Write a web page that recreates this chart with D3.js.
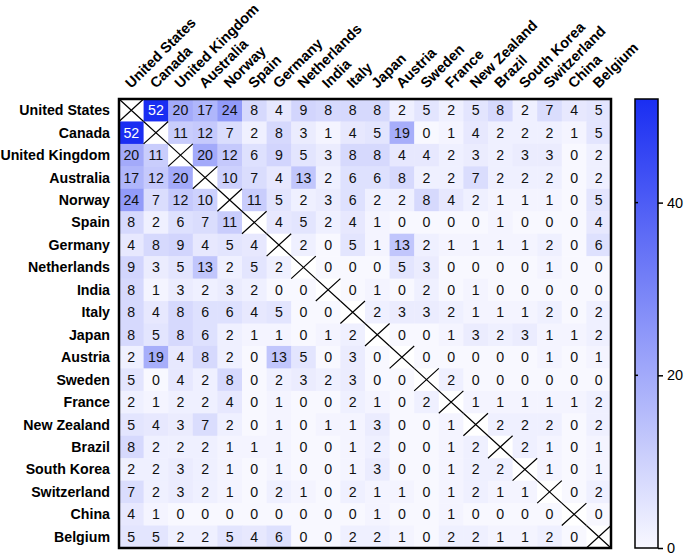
<!DOCTYPE html>
<html><head><meta charset="utf-8">
<script src="https://cdn.jsdelivr.net/npm/d3@7"></script>
<style>body{margin:0;background:#fff}svg{display:block}text{font-family:"Liberation Sans",Arial,sans-serif}</style>
</head><body>
<svg id="c" width="685" height="555"></svg>
<script>
const countries = ["United States","Canada","United Kingdom","Australia","Norway","Spain","Germany","Netherlands","India","Italy","Japan","Austria","Sweden","France","New Zealand","Brazil","South Korea","Switzerland","China","Belgium"];
const matrix = [
[null,52,20,17,24,8,4,9,8,8,8,2,5,2,5,8,2,7,4,5],
[52,null,11,12,7,2,8,3,1,4,5,19,0,1,4,2,2,2,1,5],
[20,11,null,20,12,6,9,5,3,8,8,4,4,2,3,2,3,3,0,2],
[17,12,20,null,10,7,4,13,2,6,6,8,2,2,7,2,2,2,0,2],
[24,7,12,10,null,11,5,2,3,6,2,2,8,4,2,1,1,1,0,5],
[8,2,6,7,11,null,4,5,2,4,1,0,0,0,0,1,0,0,0,4],
[4,8,9,4,5,4,null,2,0,5,1,13,2,1,1,1,1,2,0,6],
[9,3,5,13,2,5,2,null,0,0,0,5,3,0,0,0,0,1,0,0],
[8,1,3,2,3,2,0,0,null,0,1,0,2,0,1,0,0,0,0,0],
[8,4,8,6,6,4,5,0,0,null,2,3,3,2,1,1,1,2,0,2],
[8,5,8,6,2,1,1,0,1,2,null,0,0,1,3,2,3,1,1,2],
[2,19,4,8,2,0,13,5,0,3,0,null,0,0,0,0,0,1,0,1],
[5,0,4,2,8,0,2,3,2,3,0,0,null,2,0,0,0,0,0,0],
[2,1,2,2,4,0,1,0,0,2,1,0,2,null,1,1,1,1,1,2],
[5,4,3,7,2,0,1,0,1,1,3,0,0,1,null,2,2,2,0,2],
[8,2,2,2,1,1,1,0,0,1,2,0,0,1,2,null,2,1,0,1],
[2,2,3,2,1,0,1,0,0,1,3,0,0,1,2,2,null,1,0,1],
[7,2,3,2,1,0,2,1,0,2,1,1,0,1,2,1,1,null,0,2],
[4,1,0,0,0,0,0,0,0,0,1,0,0,1,0,0,0,0,null,0],
[5,5,2,2,5,4,6,0,0,2,2,1,0,2,2,1,1,2,0,null]
];
const colorTicks = [0,20,40];
const colorMax = 52;

const svg = d3.select("#c");
const L=119, R=611, T=99, B=548;
const x = d3.scaleBand().domain(countries).range([L,R]);
const y = d3.scaleBand().domain(countries).range([T,B]);
const color = d3.scaleLinear().domain([0,colorMax]).range(["#f8f8ff","#1a2ef2"]).interpolate(d3.interpolateRgb);

const cells = [];
matrix.forEach((row,i)=>row.forEach((v,j)=>cells.push({r:countries[i],c:countries[j],v})));

const g = svg.append("g");
g.selectAll("rect.cell").data(cells).join("rect")
  .attr("x",d=>x(d.c)).attr("y",d=>y(d.r))
  .attr("width",x.bandwidth()+0.5).attr("height",y.bandwidth()+0.5)
  .attr("fill",d=>d.v===null?"#fff":color(d.v));

g.selectAll("text.val").data(cells.filter(d=>d.v!==null)).join("text")
  .attr("x",d=>x(d.c)+x.bandwidth()/2).attr("y",d=>y(d.r)+y.bandwidth()/2)
  .attr("text-anchor","middle").attr("dominant-baseline","central")
  .attr("font-size",14.2).attr("fill",d=>d.v>40?"#fff":"#111")
  .text(d=>d.v);

// diagonal X marks
const diag = cells.filter(d=>d.v===null);
g.selectAll("path.x").data(diag).join("path")
  .attr("d",d=>{const x0=x(d.c),y0=y(d.r),w=x.bandwidth(),h=y.bandwidth();
    return `M${x0},${y0}L${x0+w},${y0+h}M${x0+w},${y0}L${x0},${y0+h}`;})
  .attr("stroke","#000").attr("stroke-width",1.2).attr("fill","none");

svg.append("rect").attr("x",L).attr("y",T).attr("width",R-L).attr("height",B-T)
  .attr("fill","none").attr("stroke","#000").attr("stroke-width",2.5);

// row labels
svg.selectAll("text.rl").data(countries).join("text")
  .attr("x",L-9).attr("y",d=>y(d)+y.bandwidth()/2)
  .attr("text-anchor","end").attr("dominant-baseline","central")
  .attr("font-size",14.2).attr("font-weight","bold").text(d=>d);

// column labels
svg.selectAll("text.cl").data(countries).join("text")
  .attr("transform",d=>`translate(${x(d)+x.bandwidth()/2},${T-10}) rotate(-45)`)
  .attr("text-anchor","start")
  .attr("font-size",14.5).attr("font-weight","bold").text(d=>d);

// colorbar
const CL=635, CR=658;
const cy = d3.scaleLinear().domain([0,colorMax]).range([B,T]);
const defs = svg.append("defs");
const grad = defs.append("linearGradient").attr("id","cg").attr("x1",0).attr("y1",1).attr("x2",0).attr("y2",0);
d3.range(0,1.0001,0.1).forEach(t=>grad.append("stop").attr("offset",t).attr("stop-color",color(t*colorMax)));
svg.append("rect").attr("x",CL).attr("y",T).attr("width",CR-CL).attr("height",B-T)
  .attr("fill","url(#cg)").attr("stroke","#000").attr("stroke-width",1.5);
const ax = d3.axisRight(cy).tickValues(colorTicks).tickSize(5).tickPadding(4);
const axg = svg.append("g").attr("transform",`translate(${CR},0)`).call(ax);
axg.select(".domain").remove();
axg.selectAll("line").attr("stroke-width",1.5);
axg.selectAll("text").attr("font-size",14.5).attr("fill","#000").style("font-family","'Liberation Sans',Arial,sans-serif");
svg.selectAll("line.il").data(colorTicks.filter(t=>t>0)).join("line")
  .attr("x1",CL).attr("x2",CL+3).attr("y1",d=>cy(d)).attr("y2",d=>cy(d))
  .attr("stroke","#000").attr("stroke-width",1.5);
</script>
</body></html>
